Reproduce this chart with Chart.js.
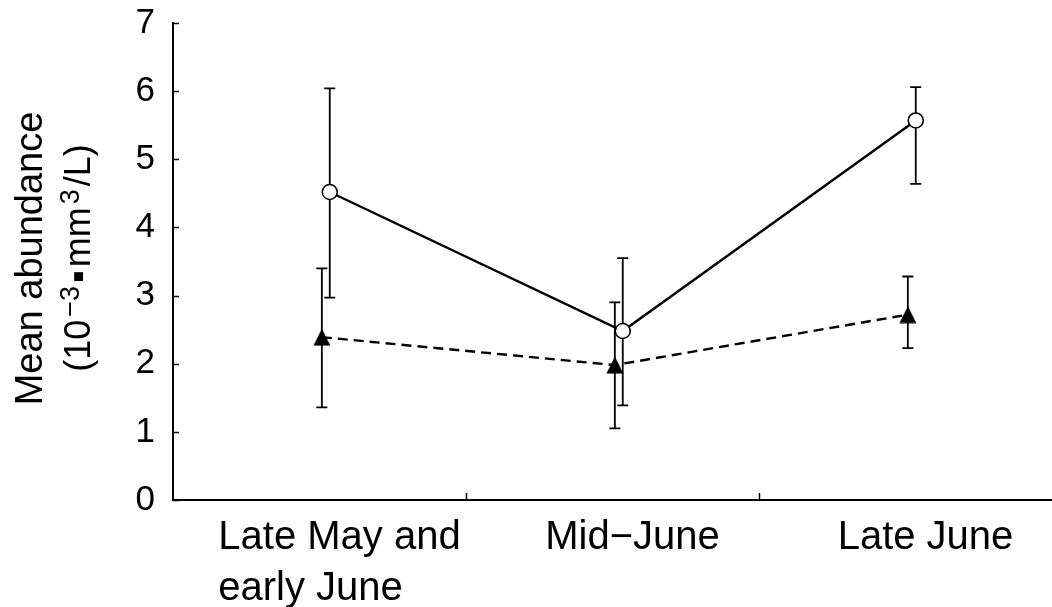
<!DOCTYPE html>
<html>
<head>
<meta charset="utf-8">
<script src="https://cdn.jsdelivr.net/npm/chart.js@4/dist/chart.umd.min.js"></script>
<style>
  html, body { margin: 0; padding: 0; background: #fff; }
  #wrap { width: 1052px; height: 607px; }
</style>
</head>
<body>
<div id="wrap"><canvas id="chart" width="1052" height="607"></canvas></div>
<script>
// Sampling periods (multi-line labels)
const categories = [["Late May and", "early June"], ["Mid\u2212June"], ["Late June"]];

// Open-circle series: mean with upper / lower error limits
const circleMean = [4.52, 2.48, 5.57];
const circleHigh = [6.04, 3.55, 6.06];
const circleLow  = [2.97, 1.39, 4.64];

// Filled-triangle series: mean with upper / lower error limits
const triangleMean = [2.39, 1.98, 2.72];
const triangleHigh = [3.40, 2.90, 3.28];
const triangleLow  = [1.36, 1.05, 2.23];

// Y axis ticks
const yTicks = [0, 1, 2, 3, 4, 5, 6, 7];

// Y axis title (second line carries superscripts)
const yTitleLine1 = "Mean abundance";
const yTitleLine2 = [
  { text: "(10" },
  { text: "\u22123", sup: true },
  { text: "\u25AA" },
  { text: "mm" },
  { text: "3", sup: true },
  { text: "/L)" }
];

const FONT = '"Liberation Sans", Arial, Helvetica, sans-serif';

// Small horizontal nudge so the two series' error bars do not overlap
const circleShift = 0.035;
const triangleShift = 0.008;

// Solid black triangle marker, centred on its bounding box
const triangleMarker = (() => {
  const c = document.createElement('canvas');
  c.width = 18; c.height = 18;
  const g = c.getContext('2d');
  g.fillStyle = '#000';
  g.beginPath();
  g.moveTo(9, 0.5);
  g.lineTo(17.5, 17.5);
  g.lineTo(0.5, 17.5);
  g.closePath();
  g.fill();
  return c;
})();

const toPoints = (vals, shift) => vals.map((v, i) => ({ x: i + shift, y: v }));

// Error bars, inward tick marks, category labels and the y title
const decorPlugin = {
  id: 'decor',
  beforeDatasetsDraw(chart) {
    const ctx = chart.ctx;
    const ys = chart.scales.y;
    chart.data.datasets.forEach((ds, di) => {
      const meta = chart.getDatasetMeta(di);
      ctx.save();
      ctx.strokeStyle = '#000';
      ctx.lineWidth = 1.8;
      meta.data.forEach((pt, i) => {
        const x = pt.x;
        const yh = ys.getPixelForValue(ds.errHigh[i]);
        const yl = ys.getPixelForValue(ds.errLow[i]);
        ctx.beginPath();
        ctx.moveTo(x, yh); ctx.lineTo(x, yl);
        ctx.moveTo(x - 5.5, yh); ctx.lineTo(x + 5.5, yh);
        ctx.moveTo(x - 5.5, yl); ctx.lineTo(x + 5.5, yl);
        ctx.stroke();
      });
      ctx.restore();
    });
  },
  afterDraw(chart) {
    const ctx = chart.ctx;
    const xs = chart.scales.x;
    const ys = chart.scales.y;
    const area = chart.chartArea;

    ctx.save();
    ctx.strokeStyle = '#000';
    ctx.lineWidth = 1.5;
    // inward y ticks
    ys.ticks.forEach(t => {
      const y = Math.round(ys.getPixelForValue(t.value)) + 0.5;
      ctx.beginPath();
      ctx.moveTo(area.left, y);
      ctx.lineTo(area.left + 6, y);
      ctx.stroke();
    });
    // inward x ticks between categories
    for (let i = 0; i < categories.length - 1; i++) {
      const x = Math.round(xs.getPixelForValue(i + 0.5)) + 0.5;
      ctx.beginPath();
      ctx.moveTo(x, area.bottom);
      ctx.lineTo(x, area.bottom - 7);
      ctx.stroke();
    }

    // category labels (left-aligned lines, block centred near each category)
    ctx.fillStyle = '#000';
    ctx.font = '40px ' + FONT;
    ctx.textAlign = 'left';
    ctx.textBaseline = 'alphabetic';
    const labelShift = 20;
    categories.forEach((lines, i) => {
      const w = Math.max(...lines.map(l => ctx.measureText(l).width));
      const left = xs.getPixelForValue(i) + labelShift - w / 2;
      lines.forEach((l, k) => {
        ctx.fillText(l, left, area.bottom + 49 + k * 51);
      });
    });

    // y title, rotated
    const midY = (area.top + area.bottom) / 2;
    ctx.save();
    ctx.translate(42, midY - 3);
    ctx.rotate(-Math.PI / 2);
    ctx.font = '38px ' + FONT;
    ctx.textAlign = 'center';
    ctx.fillText(yTitleLine1, 0, 0);
    ctx.restore();

    ctx.save();
    ctx.translate(89.5, midY - 5);
    ctx.rotate(-Math.PI / 2);
    ctx.textAlign = 'left';
    const normalFont = '36px ' + FONT;
    const supFont = '27px ' + FONT;
    const gap = 3;
    const widths = yTitleLine2.map(p => {
      ctx.font = p.sup ? supFont : normalFont;
      return ctx.measureText(p.text).width + gap;
    });
    let pos = -widths.reduce((a, b) => a + b, 0) / 2;
    yTitleLine2.forEach((p, k) => {
      ctx.font = p.sup ? supFont : normalFont;
      ctx.fillText(p.text, pos, p.sup ? -11 : 0);
      pos += widths[k];
    });
    ctx.restore();
    ctx.restore();
  }
};

new Chart(document.getElementById('chart'), {
  type: 'line',
  data: {
    datasets: [
      {
        label: 'circles',
        data: toPoints(circleMean, circleShift),
        errHigh: circleHigh,
        errLow: circleLow,
        borderColor: '#000',
        borderWidth: 2.4,
        tension: 0,
        pointStyle: 'circle',
        pointRadius: 7.5,
        pointBorderWidth: 1.6,
        pointBackgroundColor: '#fff',
        pointBorderColor: '#000'
      },
      {
        label: 'triangles',
        data: toPoints(triangleMean, triangleShift),
        errHigh: triangleHigh,
        errLow: triangleLow,
        borderColor: '#000',
        borderWidth: 2.4,
        borderDash: [10, 6],
        tension: 0,
        pointStyle: triangleMarker,
        pointRadius: 9
      }
    ]
  },
  options: {
    responsive: false,
    animation: false,
    devicePixelRatio: 1,
    layout: { autoPadding: false, padding: { top: 23, left: 0, right: 0, bottom: 0 } },
    plugins: { legend: { display: false }, tooltip: { enabled: false } },
    scales: {
      x: {
        type: 'linear',
        min: -0.5,
        max: categories.length - 0.5,
        ticks: { display: false },
        grid: { display: false },
        border: { display: true, color: '#000', width: 2 },
        afterFit(scale) { scale.height = 107; }
      },
      y: {
        type: 'linear',
        min: yTicks[0],
        max: yTicks[yTicks.length - 1],
        afterBuildTicks(scale) { scale.ticks = yTicks.map(v => ({ value: v })); },
        ticks: { color: '#000', padding: 10, font: { size: 35, family: FONT } },
        grid: { display: false },
        border: { display: true, color: '#000', width: 2 },
        afterFit(scale) {
          scale.width = 173;
          scale.paddingTop = 0;
          scale.paddingBottom = 0;
        }
      }
    }
  },
  plugins: [decorPlugin]
});
</script>
</body>
</html>
